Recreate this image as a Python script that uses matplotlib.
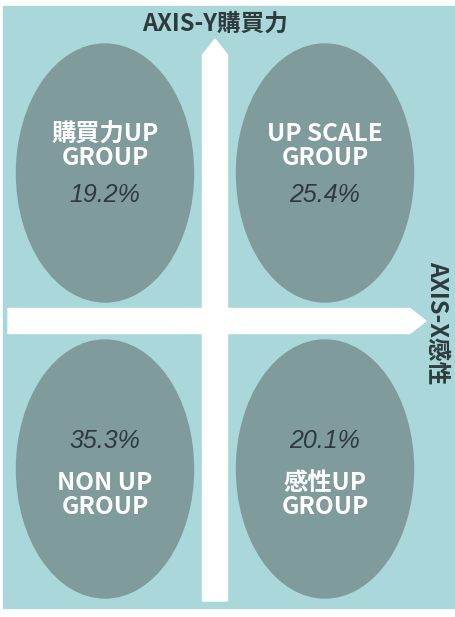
import matplotlib
matplotlib.use('Agg')
from matplotlib import pyplot as plt
from matplotlib.patches import Ellipse, Rectangle, FancyArrow

# 四象限分组数据
groups = ['購買力UP\nGROUP', 'UP SCALE\nGROUP', 'NON UP\nGROUP', '感性UP\nGROUP']
shares = [19.2, 25.4, 35.3, 20.1]
quad_x = [-1, 1, -1, 1]
quad_y = [1, 1, -1, -1]
axis_y_title = 'AXIS-Y購買力'
axis_x_title = 'AXIS-X感性'

bg_color = '#aad7da'
oval_color = '#7f9b9c'
text_dark = '#2e3b3d'
cjk = ['Noto Sans CJK JP', 'DejaVu Sans']


def mat_quadrant():
    fig = plt.figure(figsize=(4.55, 6.17), dpi=100)
    fig.patch.set_facecolor('white')
    ax = fig.add_axes([0, 0, 1, 1])
    # 像素坐标，原点在十字中心
    ax.set_xlim(-215, 240)
    ax.set_ylim(-296, 321)
    ax.axis('off')

    ax.add_patch(Rectangle((-212, -287), 452, 602, color=bg_color, zorder=0))

    # 十字箭头
    ax.add_patch(FancyArrow(0, -280, 0, 562, width=25, head_width=25,
                            head_length=16, length_includes_head=True,
                            color='white', zorder=2))
    ax.add_patch(FancyArrow(-207, 0, 418, 0, width=25, head_width=25,
                            head_length=16, length_includes_head=True,
                            color='white', zorder=2))

    dx, dy = 110, 148
    for name, val, qx, qy in zip(groups, shares, quad_x, quad_y):
        cx, cy = qx * dx, qy * dy
        ax.add_patch(Ellipse((cx, cy), 177, 258, color=oval_color, zorder=1))
        if qy > 0:
            ly, py = cy + 27, cy - 22
        else:
            ly, py = cy - 26, cy + 28
        ax.text(cx, ly, name, ha='center', va='center', color='white',
                fontsize=17.5, fontweight='bold', family=cjk,
                linespacing=1.0, zorder=3)
        ax.text(cx, py, f'{val}%', ha='center', va='center', color=text_dark,
                fontsize=18, style='italic', family='Liberation Sans', zorder=3)

    ax.text(0, 297, axis_y_title, ha='center', va='center', color=text_dark,
            fontsize=17, fontweight='bold', family=cjk)
    ax.text(222, -2, axis_x_title, ha='center', va='center', color=text_dark,
            fontsize=17, fontweight='bold', family=cjk, rotation=270)

    plt.savefig('out.png', dpi=100)


if __name__ == '__main__':
    mat_quadrant()
